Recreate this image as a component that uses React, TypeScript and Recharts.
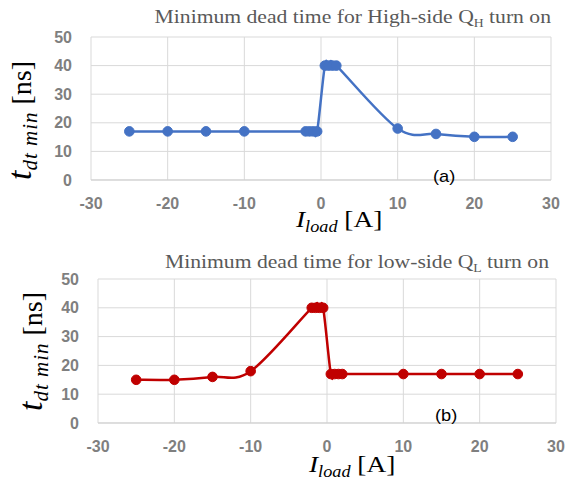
import { LineChart, Line, XAxis, YAxis, CartesianGrid } from 'recharts';

const xTicks = [-30, -20, -10, 0, 10, 20, 30];
const yTicks = [0, 10, 20, 30, 40, 50];

// (a) high-side QH turn on
const highSideCurrent = [-25, -20, -15, -10, -2, -1.5, -1, -0.5, 0.5, 1, 1.5, 2, 10, 15, 20, 25];
const highSideDeadTime = [17, 17, 17, 17, 17, 17, 17, 17, 40, 40, 40, 40, 18, 16.1, 15.1, 15.1];

// (b) low-side QL turn on
const lowSideCurrent = [-25, -20, -15, -10, -2, -1.5, -1, -0.5, 0.5, 1, 1.5, 2, 10, 15, 20, 25];
const lowSideDeadTime = [15, 15, 16, 18, 40, 40, 40, 40, 17, 17, 17, 17, 17, 17, 17, 17];

const BLUE = '#4472c4';
const RED = '#c00000';
const STRETCH = 1.14;

const toRows = (xs: number[], ys: number[]) => xs.map((x, i) => ({ x, y: ys[i] }));

// smoothing like the spreadsheet's "smoothed line" (cardinal bezier, 1/6 tangents)
const excelSmooth = (context: any) => {
  let pts: number[][] = [];
  return {
    areaStart() {},
    areaEnd() {},
    lineStart() {
      pts = [];
    },
    point(x: number, y: number) {
      pts.push([+x, +y]);
    },
    lineEnd() {
      if (!pts.length) return;
      context.moveTo(pts[0][0], pts[0][1]);
      for (let i = 0; i < pts.length - 1; i++) {
        const p0 = pts[i - 1] ?? pts[i];
        const p1 = pts[i];
        const p2 = pts[i + 1];
        const p3 = pts[i + 2] ?? p2;
        context.bezierCurveTo(
          p1[0] + (p2[0] - p0[0]) / 6,
          p1[1] + (p2[1] - p0[1]) / 6,
          p2[0] - (p3[0] - p1[0]) / 6,
          p2[1] - (p3[1] - p1[1]) / 6,
          p2[0],
          p2[1],
        );
      }
    },
  };
};

const tickStyle = {
  fill: '#7f7f7f',
  fontSize: 16,
  fontWeight: 700,
  fontFamily: '"Liberation Sans", Arial, sans-serif',
};

interface PanelProps {
  rows: { x: number; y: number }[];
  color: string;
  height: number;
  margin: { top: number; right: number; bottom: number; left: number };
}

function Panel({ rows, color, height, margin }: PanelProps) {
  return (
    <LineChart width={565} height={height} data={rows} margin={margin}>
      <CartesianGrid stroke="#d9d9d9" strokeWidth={1} />
      <XAxis
        type="number"
        dataKey="x"
        domain={[-30, 30]}
        ticks={xTicks}
        interval={0}
        axisLine={{ stroke: '#cfcfcf' }}
        tickLine={false}
        tickSize={6}
        tickMargin={12}
        height={30}
        tick={tickStyle}
      />
      <YAxis
        type="number"
        domain={[0, 50]}
        ticks={yTicks}
        interval={0}
        axisLine={false}
        tickLine={false}
        tickSize={6}
        tickMargin={13}
        width={40}
        tick={tickStyle}
      />
      <Line
        dataKey="y"
        type={excelSmooth as any}
        stroke={color}
        strokeWidth={2.5}
        dot={{ r: 4.8, fill: color, stroke: color, strokeWidth: 1 }}
        activeDot={false}
        isAnimationActive={false}
      />
    </LineChart>
  );
}

const serif = '"Liberation Serif", "Times New Roman", serif';

function Title({ x, y, main, sub, tail }: { x: number; y: number; main: string; sub: string; tail: string }) {
  return (
    <g transform={`translate(${x},${y}) scale(${STRETCH},1)`}>
      <text x={0} y={0} textAnchor="end" fontFamily={serif} fontSize={19} fill="#595959">
        {main}
        <tspan fontSize={12} dy={4}>{sub}</tspan>
        <tspan dy={-4}>{tail}</tspan>
      </text>
    </g>
  );
}

function XLabel({ x, y }: { x: number; y: number }) {
  return (
    <g transform={`translate(${x},${y}) scale(${STRETCH},1)`}>
      <text x={0} y={0} fontFamily={serif} fontSize={24} fill="#000">
        <tspan fontStyle="italic">I</tspan>
        <tspan fontStyle="italic" fontSize={16} dy={5}>load</tspan>
        <tspan dy={-5}>{' [A]'}</tspan>
      </text>
    </g>
  );
}

function YLabel({ x, y }: { x: number; y: number }) {
  return (
    <g transform={`translate(${x},${y}) rotate(-90)`}>
      <text x={0} y={0} fontFamily={serif} fontSize={28} fill="#000">
        <tspan fontStyle="italic" fontSize={34}>t</tspan>
        <tspan fontStyle="italic" fontSize={21} dy={6} letterSpacing={1}>dt min</tspan>
        <tspan dy={-6}>{'  [ns]'}</tspan>
      </text>
    </g>
  );
}

function PanelTag({ x, y, text }: { x: number; y: number; text: string }) {
  return (
    <g transform={`translate(${x},${y}) scale(${STRETCH},1)`}>
      <text x={0} y={0} fontFamily='"Liberation Sans", Arial, sans-serif' fontSize={16} fill="#000">
        {text}
      </text>
    </g>
  );
}

export default function App() {
  return (
    <div style={{ position: 'absolute', left: 0, top: 0, width: 565, height: 484, background: '#fff' }}>
      <div style={{ position: 'absolute', left: 0, top: 0 }}>
        <Panel
          rows={toRows(highSideCurrent, highSideDeadTime)}
          color={BLUE}
          height={240}
          margin={{ top: 37, right: 14, bottom: 30, left: 51 }}
        />
      </div>
      <div style={{ position: 'absolute', left: 0, top: 240 }}>
        <Panel
          rows={toRows(lowSideCurrent, lowSideDeadTime)}
          color={RED}
          height={244}
          margin={{ top: 39, right: 9, bottom: 31, left: 58 }}
        />
      </div>
      <svg
        width={565}
        height={484}
        style={{ position: 'absolute', left: 0, top: 0, pointerEvents: 'none' }}
      >
        <Title x={551} y={22.5} main="Minimum dead time for High-side Q" sub="H" tail=" turn on" />
        <Title x={549} y={268} main="Minimum dead time for low-side Q" sub="L" tail=" turn on" />
        <XLabel x={296} y={226.5} />
        <XLabel x={309} y={471.5} />
        <YLabel x={31} y={180} />
        <YLabel x={42} y={411} />
        <PanelTag x={433} y={181.5} text="(a)" />
        <PanelTag x={435} y={421} text="(b)" />
      </svg>
    </div>
  );
}
